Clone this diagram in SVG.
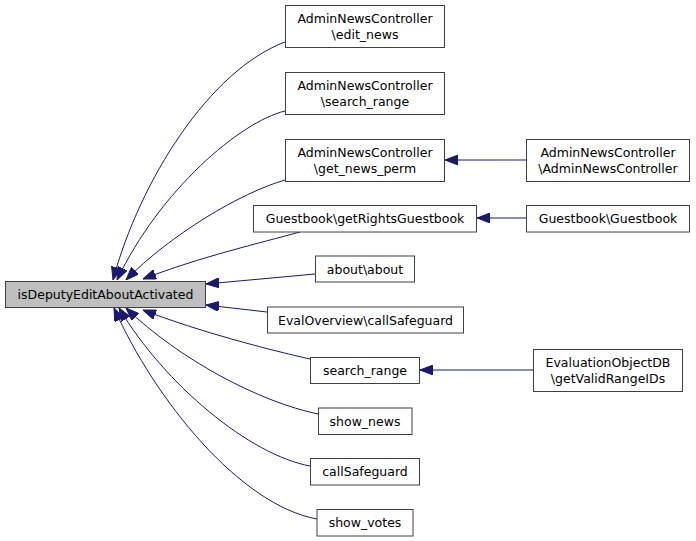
<svg xmlns="http://www.w3.org/2000/svg" width="696" height="541" viewBox="0 0 696 541">
<defs>
<style>
.n rect{fill:#ffffff;stroke:#404040;stroke-width:1}
.n.main rect{fill:#bfbfbf}
.n text{font-family:"DejaVu Sans","Liberation Sans",sans-serif;font-size:12.5px;fill:#000;text-anchor:middle}
.e path{fill:none;stroke:#191970;stroke-width:1;marker-end:url(#arr)}
</style>
<marker id="arr" markerWidth="13" markerHeight="10" refX="13" refY="5" orient="auto" markerUnits="userSpaceOnUse">
<path d="M0,0 L13,5 L0,10 z" fill="#191970" stroke="#191970" stroke-width="1"/>
</marker>
</defs>
<rect width="696" height="541" fill="#ffffff"/>
<g id="edges" class="e">
<path d="M285,42 C210,70 140,180 113,280"/>
<path d="M285,111 C240,122 160,190 117,280"/>
<path d="M285,180 C240,193 170,235 126,280"/>
<path d="M300,232 C260,243 200,257 143,279"/>
<path d="M315,274 L206,284"/>
<path d="M267,312 L206,305"/>
<path d="M310,359 C270,350 200,332 143,310"/>
<path d="M318,414 C260,402 180,360 126,308"/>
<path d="M310,466 C250,455 165,385 119,308"/>
<path d="M317,519 C240,505 155,400 114,308"/>
<path d="M526,160 L445,160"/>
<path d="M526,218 L477,218"/>
<path d="M533,370 L420,370"/>
</g>
<g id="main" class="n main"><rect x="5.5" y="281.5" width="200" height="26"/><text x="105.5" y="299">isDeputyEditAboutActivated</text></g>
<g id="edit_news" class="n"><rect x="285.5" y="5.5" width="159" height="42"/><text x="365" y="23">AdminNewsController</text><text x="365" y="39">\edit_news</text></g>
<g id="admin_search_range" class="n"><rect x="285.5" y="72.5" width="159" height="42"/><text x="365" y="90">AdminNewsController</text><text x="365" y="106">\search_range</text></g>
<g id="get_news_perm" class="n"><rect x="285.5" y="139.5" width="159" height="42"/><text x="365" y="157">AdminNewsController</text><text x="365" y="173">\get_news_perm</text></g>
<g id="admin_ctor" class="n"><rect x="526.5" y="139.5" width="163" height="42"/><text x="608" y="157">AdminNewsController</text><text x="608" y="173">\AdminNewsController</text></g>
<g id="getRightsGuestbook" class="n"><rect x="253.5" y="205.5" width="223" height="26.5"/><text x="365" y="223">Guestbook\getRightsGuestbook</text></g>
<g id="guestbook_ctor" class="n"><rect x="526.5" y="205.5" width="163" height="26.5"/><text x="608" y="223">Guestbook\Guestbook</text></g>
<g id="about" class="n"><rect x="315.5" y="256" width="99" height="26"/><text x="365" y="273.5">about\about</text></g>
<g id="eval_callSafeguard" class="n"><rect x="267.5" y="307" width="196" height="26"/><text x="365.5" y="324.5">EvalOverview\callSafeguard</text></g>
<g id="search_range" class="n"><rect x="310.5" y="357.5" width="109" height="26"/><text x="365" y="375">search_range</text></g>
<g id="getValidRangeIDs" class="n"><rect x="533.5" y="349.5" width="149" height="42"/><text x="608" y="367">EvaluationObjectDB</text><text x="608" y="383">\getValidRangeIDs</text></g>
<g id="show_news" class="n"><rect x="318.5" y="408" width="93.5" height="26.5"/><text x="365" y="425.5">show_news</text></g>
<g id="callSafeguard" class="n"><rect x="310.5" y="458.5" width="109" height="26.5"/><text x="365" y="476">callSafeguard</text></g>
<g id="show_votes" class="n"><rect x="317" y="509.5" width="96" height="26.5"/><text x="365" y="527">show_votes</text></g>
</svg>
